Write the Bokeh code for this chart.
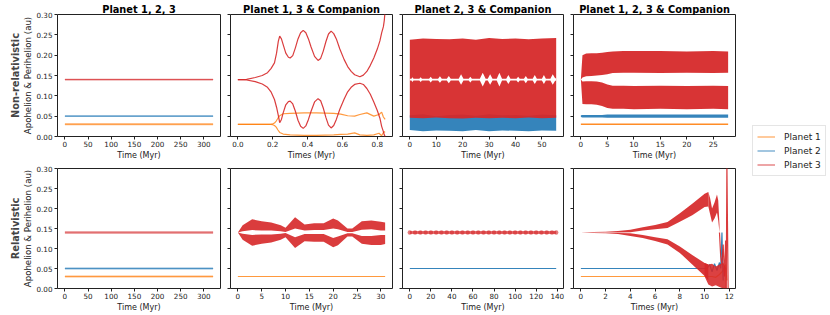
import numpy as np
from bokeh.plotting import figure
from bokeh.layouts import row, column
from bokeh.models import Range1d, FixedTicker, NumeralTickFormatter, Title, Legend, LegendItem
from bokeh.embed import file_html
from bokeh.resources import INLINE

# ---------------- texts ----------------
col_titles = ["Planet 1, 2, 3", "Planet 1, 3 & Companion", "Planet 2, 3 & Companion", "Planet 1, 2, 3 & Companion"]
row_titles = ["Non-relativistic", "Relativistic"]
y_label = "Apohelion & Perihelion (au)"
x_labels = [["Time (Myr)", "Times (Myr)", "Time (Myr)", "Time (Myr)"],
            ["Time (Myr)", "Time (Myr)", "Time (Myr)", "Times (Myr)"]]
legend_labels = ["Planet 1", "Planet 2", "Planet 3"]
y_ticks = [0.0, 0.05, 0.10, 0.15, 0.20, 0.25, 0.30]
x_ticks = [[[0, 50, 100, 150, 200, 250, 300], [0.0, 0.2, 0.4, 0.6, 0.8], [0, 10, 20, 30, 40, 50], [0, 5, 10, 15, 20, 25]],
           [[0, 50, 100, 150, 200, 250, 300], [0, 5, 10, 15, 20, 25, 30], [0, 20, 40, 60, 80, 100, 120, 140], [0, 2, 4, 6, 8, 10, 12]]]
x_formats = [["0", "0.0", "0", "0"], ["0", "0", "0", "0"]]

# ---------------- data ----------------
# column 1 (planets 1,2,3 alone): flat apohelion / perihelion
flat_t = [0, 320]
nr_flat_apo = [0.0306, 0.0506, 0.1401]
nr_flat_peri = [0.0294, 0.0494, 0.1399]
rel_flat_apo = [0.0301, 0.0501, 0.1412]
rel_flat_peri = [0.0299, 0.0499, 0.1388]

# non-relativistic, planet 1, 3 & companion
b_t = [0, 0.05, 0.10, 0.14, 0.17, 0.19, 0.21, 0.222, 0.232, 0.24, 0.25, 0.26, 0.275, 0.29, 0.30, 0.315, 0.33,
       0.345, 0.36, 0.375, 0.39, 0.405, 0.42, 0.44, 0.46, 0.475, 0.49, 0.505, 0.52, 0.535, 0.55, 0.565, 0.585,
       0.61, 0.63, 0.65, 0.67, 0.70, 0.72, 0.74, 0.76, 0.78, 0.80, 0.815, 0.825, 0.835, 0.84, 0.845]
b_p3_apo = [0.140, 0.1405, 0.145, 0.150, 0.157, 0.167, 0.181, 0.205, 0.234, 0.247, 0.240, 0.226, 0.205, 0.195,
            0.193, 0.199, 0.218, 0.240, 0.255, 0.261, 0.255, 0.240, 0.220, 0.197, 0.187, 0.192, 0.210, 0.233,
            0.252, 0.259, 0.253, 0.240, 0.215, 0.189, 0.172, 0.160, 0.152, 0.147, 0.151, 0.160, 0.175, 0.193,
            0.215, 0.235, 0.255, 0.270, 0.285, 0.310]
b_p3_peri = [0.140, 0.139, 0.135, 0.129, 0.121, 0.110, 0.091, 0.072, 0.052, 0.034, 0.042, 0.058, 0.078, 0.086,
             0.087, 0.080, 0.062, 0.040, 0.025, 0.020, 0.026, 0.042, 0.062, 0.085, 0.093, 0.088, 0.070, 0.047,
             0.028, 0.021, 0.027, 0.042, 0.067, 0.092, 0.110, 0.121, 0.128, 0.131, 0.128, 0.118, 0.104, 0.085,
             0.064, 0.045, 0.025, 0.012, 0.004, 0.000]
b1_t = [0, 0.10, 0.19, 0.20, 0.21, 0.22, 0.23, 0.24, 0.26, 0.30, 0.38, 0.45, 0.55, 0.59, 0.63, 0.67, 0.70, 0.74,
        0.78, 0.81, 0.825, 0.835, 0.845]
b_p1_apo = [0.030, 0.030, 0.030, 0.031, 0.033, 0.038, 0.045, 0.051, 0.056, 0.057, 0.058, 0.058, 0.057, 0.055,
            0.051, 0.050, 0.054, 0.058, 0.050, 0.054, 0.060, 0.048, 0.042]
b_p1_peri = [0.030, 0.030, 0.030, 0.029, 0.027, 0.023, 0.016, 0.010, 0.006, 0.004, 0.003, 0.003, 0.004, 0.005,
             0.006, 0.009, 0.004, 0.003, 0.004, 0.008, 0.002, 0.010, 0.012]

# non-relativistic, planet 2, 3 & companion (dense oscillations: envelopes)
c_t = [0, 5, 10, 15, 20, 25, 30, 35, 40, 45, 50, 55.4]
c_p3_hi = [0.238, 0.241, 0.240, 0.239, 0.241, 0.238, 0.242, 0.240, 0.241, 0.239, 0.241, 0.242]
c_p3_lo = [0.046, 0.045, 0.047, 0.045, 0.044, 0.046, 0.045, 0.046, 0.045, 0.047, 0.045, 0.046]
c_p2_hi = [0.052, 0.055, 0.050, 0.053, 0.054, 0.051, 0.055, 0.052, 0.053, 0.051, 0.054, 0.052]
c_p2_lo = [0.016, 0.013, 0.015, 0.014, 0.013, 0.016, 0.013, 0.015, 0.014, 0.013, 0.015, 0.014]
c_gap_t = [0, 0.6, 1.0, 1.4, 3.6, 4.1, 4.6, 7.3, 7.9, 8.5, 10.7, 11.4, 12.1, 14.0, 14.75, 15.5, 18.5, 19.4,
           20.3, 22.3, 22.9, 23.5, 26.5, 27.6, 28.7, 29.5, 30.4, 31.3, 32.9, 33.9, 34.9, 36.5, 37.3, 38.1,
           40.4, 41.0, 41.6, 43.2, 43.9, 44.6, 46.5, 47.3, 48.1, 50.0, 50.75, 51.5, 53.2, 54.1, 55.0, 55.4]
c_gap_w = [0.002, 0.002, 0.006, 0.002, 0.002, 0.006, 0.002, 0.002, 0.007, 0.002, 0.002, 0.008, 0.002, 0.002,
           0.009, 0.002, 0.002, 0.013, 0.002, 0.002, 0.007, 0.002, 0.002, 0.017, 0.002, 0.002, 0.013, 0.002,
           0.002, 0.017, 0.002, 0.002, 0.011, 0.002, 0.002, 0.007, 0.002, 0.002, 0.009, 0.002, 0.002, 0.011,
           0.002, 0.002, 0.011, 0.002, 0.002, 0.013, 0.003, 0.003]

# non-relativistic, planet 1, 2, 3 & companion
d_t = [0, 0.3, 1, 2, 3, 4, 5, 6, 8, 10, 15, 20, 25, 27.8]
d_p3a_hi = [0.140, 0.200, 0.204, 0.205, 0.205, 0.206, 0.208, 0.209, 0.210, 0.210, 0.210, 0.209, 0.210, 0.209]
d_p3a_lo = [0.140, 0.145, 0.148, 0.149, 0.150, 0.151, 0.153, 0.156, 0.157, 0.157, 0.156, 0.157, 0.156, 0.157]
d_p3p_hi = [0.140, 0.135, 0.136, 0.136, 0.135, 0.133, 0.128, 0.125, 0.125, 0.124, 0.125, 0.124, 0.125, 0.124]
d_p3p_lo = [0.140, 0.080, 0.079, 0.079, 0.078, 0.075, 0.070, 0.068, 0.068, 0.067, 0.068, 0.067, 0.068, 0.067]
d_p2_hi = [0.052, 0.053, 0.053, 0.053, 0.053, 0.053, 0.054, 0.054, 0.054, 0.054, 0.054, 0.054, 0.054, 0.054]
d_p2_lo = [0.048, 0.047, 0.047, 0.047, 0.047, 0.047, 0.046, 0.046, 0.046, 0.046, 0.046, 0.046, 0.046, 0.046]
d_p1_hi = [0.032] * 14
d_p1_lo = [0.028] * 14

# relativistic, planet 1, 3 & companion
e_t = [0, 1, 3, 5, 7, 9, 10, 12, 14, 16, 18, 20, 21, 23, 24, 26, 28, 30, 30.9]
e_p3a_hi = [0.140, 0.158, 0.173, 0.168, 0.165, 0.158, 0.152, 0.178, 0.160, 0.163, 0.163, 0.175, 0.170, 0.150,
            0.150, 0.168, 0.170, 0.167, 0.165]
e_p3a_lo = [0.140, 0.143, 0.146, 0.145, 0.145, 0.143, 0.141, 0.150, 0.145, 0.146, 0.146, 0.150, 0.148, 0.141,
            0.141, 0.147, 0.148, 0.145, 0.145]
e_p3p_hi = [0.140, 0.137, 0.134, 0.135, 0.135, 0.137, 0.139, 0.128, 0.136, 0.136, 0.136, 0.126, 0.130, 0.138,
            0.138, 0.131, 0.131, 0.134, 0.134]
e_p3p_lo = [0.140, 0.122, 0.107, 0.112, 0.115, 0.122, 0.128, 0.101, 0.118, 0.117, 0.117, 0.103, 0.108, 0.130,
            0.130, 0.112, 0.109, 0.109, 0.111]
e_p1_t = [0, 30.9]
e_p1 = [0.030, 0.030]

# relativistic, planet 2, 3 & companion
f_t = [0, 139]
f_p3_hi = [0.1435, 0.1435]
f_p3_lo = [0.1365, 0.1365]
f_p2 = [0.050, 0.050]
f_bump_t = [0, 5, 10, 15, 20, 25, 30, 35, 40, 45, 50, 55, 60, 65, 70, 75, 80, 85, 90, 95, 100, 105, 110, 115,
            120, 125, 130, 135, 139]
f_bump_y = [0.140] * 29

# relativistic, planet 1, 2, 3 & companion
g_t = [0, 1, 2, 3, 4, 5, 6, 7, 8, 9, 10, 10.3]
g_p3a_hi = [0.140, 0.141, 0.142, 0.144, 0.147, 0.153, 0.159, 0.166, 0.188, 0.212, 0.237, 0.241]
g_p3a_lo = [0.140, 0.140, 0.140, 0.140, 0.1405, 0.145, 0.148, 0.151, 0.167, 0.183, 0.204, 0.205]
g_p3p_hi = [0.140, 0.1395, 0.139, 0.1385, 0.138, 0.134, 0.128, 0.123, 0.105, 0.084, 0.064, 0.060]
g_p3p_lo = [0.140, 0.139, 0.138, 0.136, 0.131, 0.126, 0.119, 0.110, 0.089, 0.060, 0.031, 0.020]
g_up_t = [10.3, 10.45, 10.6, 10.8, 11.0, 11.1, 11.2]
g_up_hi = [0.241, 0.225, 0.200, 0.215, 0.235, 0.220, 0.160]
g_up_lo = [0.205, 0.185, 0.165, 0.175, 0.190, 0.170, 0.140]
g_ch_t = [10.0, 10.3, 10.6, 10.9, 11.2, 11.5, 11.75]
g_ch_hi = [0.064, 0.060, 0.062, 0.055, 0.060, 0.065, 0.050]
g_ch_lo = [0.030, 0.010, 0.005, 0.008, 0.004, 0.000, 0.000]
g_sp_t = [11.2, 11.3, 11.4, 11.5, 11.6, 11.7, 11.75, 11.8, 11.85, 11.9]
g_sp_y = [0.140, 0.080, 0.060, 0.110, 0.030, 0.120, 0.000, 0.310, 0.150, 0.000]
g_p2_t = [0, 10.2, 10.4, 10.6, 10.8, 11.0, 11.2, 11.3, 11.4, 11.45, 11.5]
g_p2_y = [0.050, 0.050, 0.060, 0.042, 0.062, 0.045, 0.065, 0.050, 0.140, 0.070, 0.020]
g_p1_t = [0, 10.3, 10.6, 10.9, 11.2, 11.5, 11.7, 11.8]
g_p1_y = [0.030, 0.030, 0.030, 0.028, 0.035, 0.045, 0.060, 0.020]

# ---------------- style ----------------
ORANGE, BLUE, RED = "#ff7f0e", "#1f77b4", "#d62728"
COLORS = [ORANGE, BLUE, RED]
FONT = "DejaVu Sans"
FW = [163, 162, 161, 162]
ML = [57, 6, 6, 6]
FH = [122, 120]
MT = [14, 6]
MB = [25, 24]
TICK_FS = "7.2px"
LABEL_FS = "8px"
YLABEL_FS = "8.6px"
TITLE_FS = "9.8px"


def make_fig(r, c, tmax):
    pad = 0.05 * tmax
    kw = {}
    if r == 0:
        kw["title"] = col_titles[c]
    p = figure(frame_width=FW[c], frame_height=FH[r], x_range=Range1d(-pad, tmax + pad),
               y_range=Range1d(0, 0.3), output_backend="svg", toolbar_location=None,
               min_border_left=ML[c], min_border_right=4, min_border_top=MT[r], min_border_bottom=MB[r],
               background_fill_color="white", border_fill_color="white", **kw)
    if r == 0:
        p.title.align = "center"
        p.title.text_font = FONT
        p.title.text_font_size = TITLE_FS
        p.title.text_font_style = "bold"
        p.title.text_color = "black"
        p.title.standoff = 0
        p.title.offset = 0
    p.xgrid.visible = False
    p.ygrid.visible = False
    p.outline_line_color = "#222222"
    p.outline_line_width = 1
    for ax in (p.xaxis[0], p.yaxis[0]):
        ax.axis_line_color = None
        ax.major_tick_out = 3
        ax.major_tick_in = 0
        ax.minor_tick_out = 0
        ax.minor_tick_in = 0
        ax.major_tick_line_color = "#222222"
        ax.major_label_text_font = FONT
        ax.major_label_text_font_size = TICK_FS
        ax.major_label_text_color = "#222222"
        ax.axis_label_text_font = FONT
        ax.axis_label_text_font_size = LABEL_FS
        ax.axis_label_text_font_style = "normal"
        ax.axis_label_text_color = "#222222"
        ax.major_label_standoff = 1
        ax.axis_label_standoff = 1
    p.xaxis.ticker = FixedTicker(ticks=x_ticks[r][c])
    p.xaxis.formatter = NumeralTickFormatter(format=x_formats[r][c])
    p.xaxis.axis_label = x_labels[r][c]
    p.yaxis.ticker = FixedTicker(ticks=y_ticks)
    p.yaxis.formatter = NumeralTickFormatter(format="0.00")
    if c == 0:
        p.yaxis.axis_label = y_label
        p.yaxis.axis_label_text_font_size = YLABEL_FS
        p.yaxis.major_label_standoff = 2
        p.yaxis.axis_label_standoff = 0
        p.add_layout(Title(text=row_titles[r], text_font=FONT, text_font_size=TITLE_FS,
                           text_font_style="bold", align="center", standoff=0, offset=0), "left")
    else:
        p.yaxis.major_label_overrides = {t: "" for t in y_ticks}
        p.yaxis.major_label_standoff = 0
    return p


figs = [[None] * 4 for _ in range(2)]

# row 0 col 0
p = make_fig(0, 0, max(flat_t))
for i in range(3):
    p.line(flat_t, [nr_flat_apo[i]] * 2, color=COLORS[i], line_width=1.4, alpha=0.55)
    p.line(flat_t, [nr_flat_peri[i]] * 2, color=COLORS[i], line_width=1.4, alpha=0.55)
figs[0][0] = p

# row 0 col 1
p = make_fig(0, 1, max(b_t))
p.line(b1_t, b_p1_apo, color=ORANGE, line_width=1.2, alpha=0.8)
p.line(b1_t, b_p1_peri, color=ORANGE, line_width=1.2, alpha=0.8)
p.line(b_t, b_p3_apo, color=RED, line_width=1.2, alpha=0.9)
p.line(b_t, b_p3_peri, color=RED, line_width=1.2, alpha=0.9)
figs[0][1] = p

# row 0 col 2
p = make_fig(0, 2, max(c_t))
p.varea(x=c_t, y1=c_p2_lo, y2=c_p2_hi, fill_color=BLUE, fill_alpha=0.9)
p.varea(x=c_t, y1=c_p3_lo, y2=c_p3_hi, fill_color=RED, fill_alpha=0.94)
gw = np.array(c_gap_w)
p.varea(x=c_gap_t, y1=0.14 - gw, y2=0.14 + gw, fill_color="white", fill_alpha=1.0)
figs[0][2] = p

# row 0 col 3
p = make_fig(0, 3, max(d_t))
p.varea(x=d_t, y1=d_p1_lo, y2=d_p1_hi, fill_color=ORANGE, fill_alpha=0.9)
p.varea(x=d_t, y1=d_p2_lo, y2=d_p2_hi, fill_color=BLUE, fill_alpha=0.9)
p.varea(x=d_t, y1=d_p3a_lo, y2=d_p3a_hi, fill_color=RED, fill_alpha=0.94)
p.varea(x=d_t, y1=d_p3p_lo, y2=d_p3p_hi, fill_color=RED, fill_alpha=0.94)
figs[0][3] = p

# row 1 col 0
p = make_fig(1, 0, max(flat_t))
for i in range(3):
    p.line(flat_t, [rel_flat_apo[i]] * 2, color=COLORS[i], line_width=1.4, alpha=0.55)
    p.line(flat_t, [rel_flat_peri[i]] * 2, color=COLORS[i], line_width=1.4, alpha=0.55)
figs[1][0] = p

# row 1 col 1
p = make_fig(1, 1, max(e_t))
p.line(e_p1_t, e_p1, color=ORANGE, line_width=1.2, alpha=0.8)
p.varea(x=e_t, y1=e_p3a_lo, y2=e_p3a_hi, fill_color=RED, fill_alpha=0.9)
p.varea(x=e_t, y1=e_p3p_lo, y2=e_p3p_hi, fill_color=RED, fill_alpha=0.9)
figs[1][1] = p

# row 1 col 2
p = make_fig(1, 2, max(f_t))
p.line(f_t, f_p2, color=BLUE, line_width=1.2, alpha=0.9)
p.varea(x=f_t, y1=f_p3_lo, y2=f_p3_hi, fill_color=RED, fill_alpha=0.65)
p.scatter(f_bump_t, f_bump_y, size=4.5, color=RED, alpha=0.6, line_color=None)
figs[1][2] = p

# row 1 col 3
p = make_fig(1, 3, max(g_sp_t))
p.line(g_p1_t, g_p1_y, color=ORANGE, line_width=1.2, alpha=0.8)
p.line(g_p2_t, g_p2_y, color=BLUE, line_width=1.2, alpha=0.9)
p.varea(x=g_t, y1=g_p3a_lo, y2=g_p3a_hi, fill_color=RED, fill_alpha=0.92)
p.varea(x=g_t, y1=g_p3p_lo, y2=g_p3p_hi, fill_color=RED, fill_alpha=0.92)
p.varea(x=g_up_t, y1=g_up_lo, y2=g_up_hi, fill_color=RED, fill_alpha=0.92)
p.varea(x=g_ch_t, y1=g_ch_lo, y2=g_ch_hi, fill_color=RED, fill_alpha=0.88)
p.line(g_sp_t, g_sp_y, color=RED, line_width=1.2, alpha=0.9)
figs[1][3] = p

# legend figure
TOTAL_H = MT[0] + FH[0] + MB[0] + MT[1] + FH[1] + MB[1]
lf = figure(width=90, height=TOTAL_H, x_range=Range1d(1000, 1001), y_range=Range1d(1000, 1001),
            output_backend="svg", toolbar_location=None, min_border=0,
            x_axis_location=None, y_axis_location=None)
lf.outline_line_color = None
lf.xgrid.visible = False
lf.ygrid.visible = False
items = []
for i in range(3):
    rr = lf.line(flat_t, [nr_flat_apo[i]] * 2, color=COLORS[i], line_width=1.5, alpha=0.55)
    items.append(LegendItem(label=legend_labels[i], renderers=[rr]))
leg = Legend(items=items, location=(13, TOTAL_H - 176), label_text_font=FONT, label_text_font_size="9px",
             label_text_color="#222222", glyph_width=18, glyph_height=13, label_height=13,
             label_standoff=9, spacing=1, padding=4, margin=0,
             border_line_color="#cccccc", border_line_width=1, background_fill_alpha=1)
lf.add_layout(leg)

layout = row(column(row(*figs[0]), row(*figs[1])), lf)
open("out.html", "w").write(file_html(layout, INLINE))
